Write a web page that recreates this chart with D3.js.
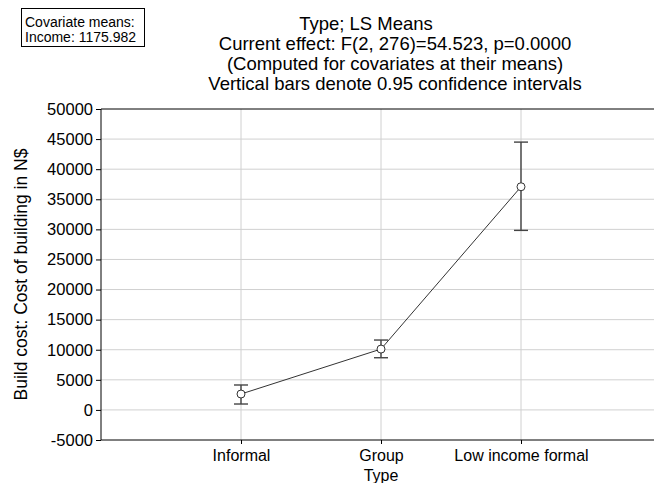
<!DOCTYPE html>
<html>
<head>
<meta charset="utf-8">
<script src="https://cdn.jsdelivr.net/npm/d3@7"></script>
<style>
  body { margin: 0; background: #fff; }
  svg { font-family: "Liberation Sans", Arial, sans-serif; }
</style>
</head>
<body>
<div id="chart"></div>
<script>
const types = ["Informal", "Group", "Low income formal"];
const means = [2640, 10110, 37080];
const ciLow = [980, 8670, 29830];
const ciHigh = [4140, 11610, 44500];
const yTicks = [-5000, 0, 5000, 10000, 15000, 20000, 25000, 30000, 35000, 40000, 45000, 50000];
const titleLines = [
    "Type; LS Means",
    "Current effect: F(2, 276)=54.523, p=0.0000",
    "(Computed for covariates at their means)",
    "Vertical bars denote 0.95 confidence intervals"
];
const covariateLines = ["Covariate means:", "Income: 1175.982"];

const width = 654,
      height = 483,
      margin = ({ top: 109, right: -7, bottom: 43, left: 101 });

let svg = d3.select("#chart")
    .append("svg")
    .attr("width", width)
    .attr("height", height);

let data = types.map((t, i) => ({ type: t, mean: means[i], lo: ciLow[i], hi: ciHigh[i] }));

let x = d3.scalePoint()
    .domain(types)
    .range([margin.left, width - margin.right])
    .padding(1);

let y = d3.scaleLinear()
    .domain([-5000, 50000])
    .range([height - margin.bottom, margin.top]);

// gridlines
svg.append("g")
    .attr("stroke", "#d0d0d0")
    .selectAll("line")
    .data(yTicks.slice(1, -1))
    .join("line")
    .attr("x1", margin.left)
    .attr("x2", width)
    .attr("y1", d => y(d))
    .attr("y2", d => y(d));

svg.append("g")
    .attr("stroke", "#d0d0d0")
    .selectAll("line")
    .data(types)
    .join("line")
    .attr("x1", d => x(d))
    .attr("x2", d => x(d))
    .attr("y1", margin.top)
    .attr("y2", height - margin.bottom);

// axes
let yAxis = svg.append("g")
    .attr("transform", `translate(${margin.left},0)`)
    .call(d3.axisLeft(y).tickValues(yTicks).tickSize(5).tickPadding(3).tickFormat(d => String(d)));
yAxis.select(".domain").remove();
yAxis.selectAll("text").attr("font-size", 16.5).attr("fill", "#000").attr("font-family", null);

let xAxis = svg.append("g")
    .attr("transform", `translate(0,${height - margin.bottom})`)
    .call(d3.axisBottom(x).tickSize(4).tickPadding(6));
xAxis.select(".domain").remove();
xAxis.selectAll("text").attr("font-size", 16).attr("fill", "#000").attr("font-family", null);

// frame (left, top, bottom)
svg.append("path")
    .attr("fill", "none")
    .attr("stroke", "#000")
    .attr("d", `M${width},${y(50000)}H${margin.left}V${y(-5000)}H${width}`);

// mean line
svg.append("path")
    .datum(data)
    .attr("fill", "none")
    .attr("stroke", "#333")
    .attr("d", d3.line().x(d => x(d.type)).y(d => y(d.mean)));

// error bars
let bar = svg.selectAll(".bar")
    .data(data)
    .join("g")
    .attr("class", "bar")
    .attr("stroke", "#444")
    .attr("stroke-width", 1.4);

bar.append("line")
    .attr("x1", d => x(d.type)).attr("x2", d => x(d.type))
    .attr("y1", d => y(d.lo)).attr("y2", d => y(d.hi));
bar.append("line")
    .attr("x1", d => x(d.type) - 7).attr("x2", d => x(d.type) + 7)
    .attr("y1", d => y(d.hi)).attr("y2", d => y(d.hi));
bar.append("line")
    .attr("x1", d => x(d.type) - 7).attr("x2", d => x(d.type) + 7)
    .attr("y1", d => y(d.lo)).attr("y2", d => y(d.lo));

svg.selectAll(".pt")
    .data(data)
    .join("circle")
    .attr("class", "pt")
    .attr("cx", d => x(d.type))
    .attr("cy", d => y(d.mean))
    .attr("r", 4)
    .attr("fill", "#fff")
    .attr("stroke", "#333");

// titles
svg.append("g")
    .selectAll("text")
    .data(titleLines)
    .join("text")
    .attr("x", (d, i) => i == 0 ? 366 : 395)
    .attr("y", (d, i) => 30 + i * 20)
    .attr("text-anchor", "middle")
    .attr("font-size", 18.5)
    .text(d => d);

// axis titles
svg.append("text")
    .attr("transform", `translate(27,${(y(50000) + y(-5000)) / 2}) rotate(-90)`)
    .attr("text-anchor", "middle")
    .attr("font-size", 17.5)
    .text("Build cost: Cost of building in N$");

svg.append("text")
    .attr("x", x("Group"))
    .attr("y", 481)
    .attr("text-anchor", "middle")
    .attr("font-size", 16)
    .text("Type");

// covariate box
svg.append("rect")
    .attr("x", 21.5).attr("y", 8.5)
    .attr("width", 123).attr("height", 38)
    .attr("fill", "#fff")
    .attr("stroke", "#000");

svg.append("g")
    .selectAll("text")
    .data(covariateLines)
    .join("text")
    .attr("x", 25)
    .attr("y", (d, i) => 27 + i * 15)
    .attr("font-size", 14)
    .text(d => d);
</script>
</body>
</html>
